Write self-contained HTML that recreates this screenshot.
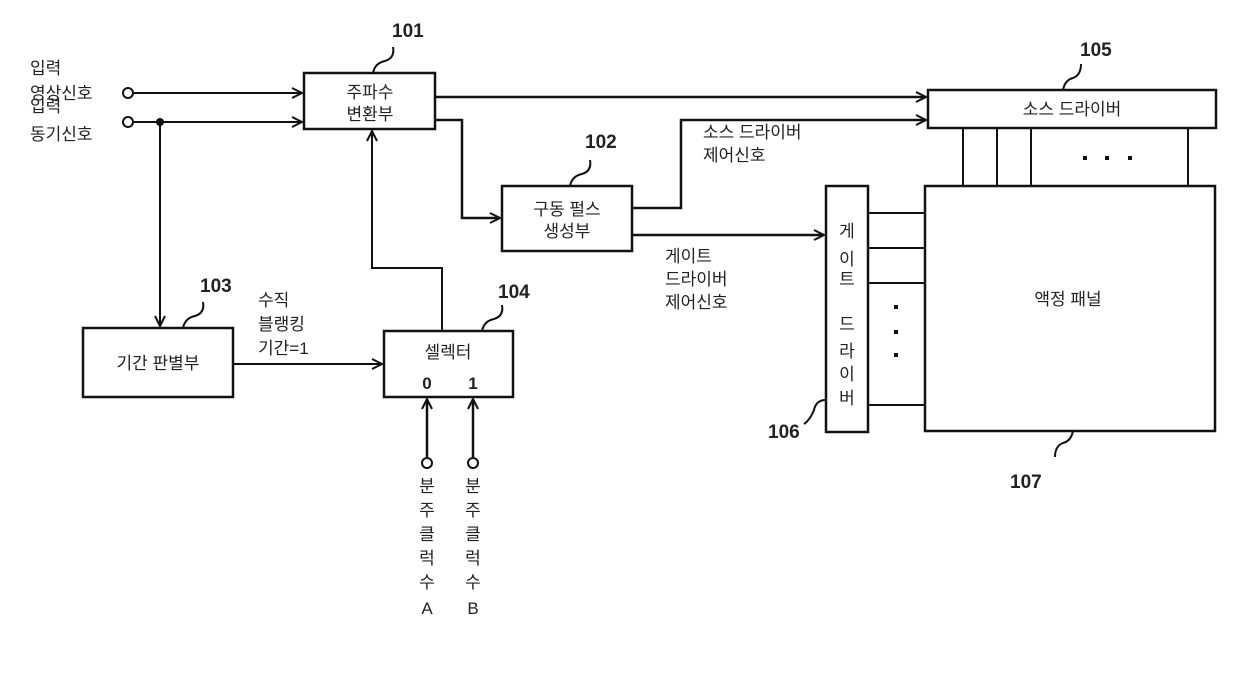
<!DOCTYPE html>
<html><head><meta charset="utf-8"><style>
html,body{margin:0;padding:0;background:#fff;}
svg{display:block;}
text{font-family:"Liberation Sans","Noto Sans CJK KR",sans-serif;fill:#222;}
.n{font-weight:bold;font-size:19px;}
</style></head><body>
<svg width="1240" height="687" viewBox="0 0 1240 687" xmlns="http://www.w3.org/2000/svg">
<defs>
<marker id="a" viewBox="0 0 12 12" refX="11" refY="6" markerWidth="12" markerHeight="12" markerUnits="userSpaceOnUse" orient="auto">
<path d="M1,1 L11,6 L1,11" fill="none" stroke="#111" stroke-width="2"/>
</marker>
</defs>
<g fill="none" stroke="#111" stroke-width="2.5">
<rect x="304" y="73" width="131" height="56"/>
<rect x="928" y="90" width="288" height="38"/>
<rect x="925" y="186" width="290" height="245"/>
<rect x="826" y="186" width="42" height="246"/>
<rect x="502" y="186" width="130" height="65"/>
<rect x="83" y="328" width="150" height="69"/>
<rect x="384" y="331" width="129" height="66"/>
</g>
<g fill="none" stroke="#111" stroke-width="2">
<line x1="963" y1="128" x2="963" y2="186"/><line x1="997" y1="128" x2="997" y2="186"/>
<line x1="1031" y1="128" x2="1031" y2="186"/><line x1="1188" y1="128" x2="1188" y2="186"/>
<line x1="868" y1="213" x2="925" y2="213"/><line x1="868" y1="248" x2="925" y2="248"/>
<line x1="868" y1="283" x2="925" y2="283"/><line x1="868" y1="405" x2="925" y2="405"/>
<line x1="134" y1="93" x2="302" y2="93" marker-end="url(#a)"/>
<line x1="134" y1="122" x2="302" y2="122" marker-end="url(#a)"/>
<line x1="160" y1="122" x2="160" y2="326" marker-end="url(#a)"/>
<line x1="435" y1="97" x2="926" y2="97" marker-end="url(#a)" stroke-width="2.5"/>
<polyline points="435,120 462,120 462,218 500,218" marker-end="url(#a)" stroke-width="2.5"/>
<polyline points="632,208 681,208 681,120 926,120" marker-end="url(#a)" stroke-width="2.5"/>
<line x1="632" y1="235" x2="824" y2="235" marker-end="url(#a)" stroke-width="2.5"/>
<polyline points="442,331 442,268 372,268 372,131" marker-end="url(#a)"/>
<line x1="233" y1="364" x2="382" y2="364" marker-end="url(#a)"/>
<line x1="427" y1="457" x2="427" y2="399" marker-end="url(#a)" stroke-width="2.5"/>
<line x1="473" y1="457" x2="473" y2="399" marker-end="url(#a)" stroke-width="2.5"/>
<path d="M373,73 q2,-10 12,-12 q10,-3 8,-14"/>
<path d="M570,186 q2,-10 12,-12 q10,-3 8,-14"/>
<path d="M1063,90 q2,-10 10,-12 q8,-3 8,-14"/>
<path d="M183,328 q2,-10 12,-12 q10,-3 8,-14"/>
<path d="M482,331 q2,-10 12,-12 q10,-3 8,-14"/>
<path d="M826,400 q-10,0 -12,10 q-4,10 -10,14"/>
<path d="M1073,431 q-2,10 -10,12 q-8,3 -8,14"/>
</g>
<g fill="#fff" stroke="#111" stroke-width="2">
<circle cx="128" cy="93" r="5"/><circle cx="128" cy="122" r="5"/>
<circle cx="427" cy="463" r="5"/><circle cx="473" cy="463" r="5"/>
</g>
<circle cx="160" cy="122" r="4" fill="#111"/>
<g fill="#111">
<rect x="1083" y="156" width="4" height="4"/><rect x="1105" y="156" width="4" height="4"/><rect x="1128" y="156" width="4" height="4"/>
<rect x="894" y="305" width="4" height="4"/><rect x="894" y="330" width="4" height="4"/><rect x="894" y="353" width="4" height="4"/>
</g>
<text class="n" x="392" y="37">101</text>
<text class="n" x="585" y="148">102</text>
<text class="n" x="200" y="292">103</text>
<text class="n" x="498" y="298">104</text>
<text class="n" x="1080" y="56">105</text>
<text class="n" x="768" y="438">106</text>
<text class="n" x="1010" y="488">107</text>
<g font-size="17">
<text x="30" y="74">입력</text>
<text x="30" y="99">영상신호</text>
<text x="30" y="112">입력</text>
<text x="30" y="140">동기신호</text>
<text x="370" y="98" text-anchor="middle">주파수</text>
<text x="370" y="120" text-anchor="middle">변환부</text>
<text x="567" y="215" text-anchor="middle">구동 펄스</text>
<text x="567" y="237" text-anchor="middle">생성부</text>
<text x="158" y="369" text-anchor="middle">기간 판별부</text>
<text x="258" y="306">수직</text>
<text x="258" y="330">블랭킹</text>
<text x="258" y="354">기간=1</text>
<text x="448" y="358" text-anchor="middle">셀렉터</text>
<text x="427" y="389" text-anchor="middle" font-weight="bold">0</text>
<text x="473" y="389" text-anchor="middle" font-weight="bold">1</text>
<text x="1072" y="115" text-anchor="middle">소스 드라이버</text>
<text x="703" y="138">소스 드라이버</text>
<text x="703" y="161">제어신호</text>
<text x="665" y="262">게이트</text>
<text x="665" y="285">드라이버</text>
<text x="665" y="308">제어신호</text>
<text x="1068" y="305" text-anchor="middle">액정 패널</text>
</g>
<g font-size="17" text-anchor="middle">
<text x="847" y="237">게</text><text x="847" y="265">이</text><text x="847" y="285">트</text>
<text x="847" y="330">드</text><text x="847" y="357">라</text><text x="847" y="380">이</text><text x="847" y="404">버</text>
<text x="427" y="492">분</text><text x="427" y="516">주</text><text x="427" y="540">클</text><text x="427" y="564">럭</text><text x="427" y="588">수</text><text x="427" y="614">A</text>
<text x="473" y="492">분</text><text x="473" y="516">주</text><text x="473" y="540">클</text><text x="473" y="564">럭</text><text x="473" y="588">수</text><text x="473" y="614">B</text>
</g>
</svg>
</body></html>
